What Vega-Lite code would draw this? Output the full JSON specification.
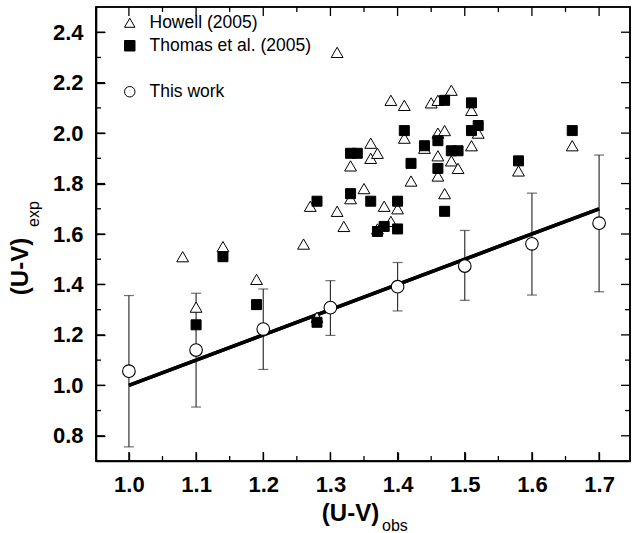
{
  "$schema": "https://vega.github.io/schema/vega-lite/v6.json",
  "width": 534,
  "height": 454,
  "autosize": "none",
  "padding": {"left": 96, "top": 7, "right": 2, "bottom": 72},
  "background": "white",
  "config": {
    "view": {"stroke": "black", "strokeWidth": 1.6},
    "axis": {
      "grid": false,
      "domainColor": "black",
      "domainWidth": 1.6,
      "tickColor": "black",
      "tickWidth": 1.3,
      "labelColor": "black",
      "labelFont": "Liberation Sans",
      "labelFontWeight": "bold",
      "labelFontSize": 22,
      "labelPadding": 22,
      "titleColor": "black",
      "titleFont": "Liberation Sans",
      "titleFontWeight": "bold",
      "titleFontSize": 24
    },
    "legend": {
      "labelFont": "Liberation Sans",
      "labelFontSize": 17.5,
      "labelColor": "black",
      "symbolSize": 110,
      "symbolStrokeWidth": 1,
      "rowPadding": 4,
      "labelOffset": 11,
      "padding": 0,
      "labelLimit": 400
    }
  },
  "datasets": {
    "howell": [
      {"x": 1.08, "y": 1.51, "series": "Howell (2005)"},
      {"x": 1.10, "y": 1.31, "series": "Howell (2005)"},
      {"x": 1.14, "y": 1.55, "series": "Howell (2005)"},
      {"x": 1.19, "y": 1.42, "series": "Howell (2005)"},
      {"x": 1.26, "y": 1.56, "series": "Howell (2005)"},
      {"x": 1.27, "y": 1.71, "series": "Howell (2005)"},
      {"x": 1.28, "y": 1.27, "series": "Howell (2005)"},
      {"x": 1.31, "y": 1.69, "series": "Howell (2005)"},
      {"x": 1.31, "y": 2.32, "series": "Howell (2005)"},
      {"x": 1.32, "y": 1.63, "series": "Howell (2005)"},
      {"x": 1.33, "y": 1.74, "series": "Howell (2005)"},
      {"x": 1.33, "y": 1.87, "series": "Howell (2005)"},
      {"x": 1.35, "y": 1.78, "series": "Howell (2005)"},
      {"x": 1.36, "y": 1.96, "series": "Howell (2005)"},
      {"x": 1.36, "y": 1.90, "series": "Howell (2005)"},
      {"x": 1.37, "y": 1.92, "series": "Howell (2005)"},
      {"x": 1.37, "y": 1.62, "series": "Howell (2005)"},
      {"x": 1.38, "y": 1.71, "series": "Howell (2005)"},
      {"x": 1.39, "y": 1.65, "series": "Howell (2005)"},
      {"x": 1.39, "y": 2.13, "series": "Howell (2005)"},
      {"x": 1.40, "y": 1.70, "series": "Howell (2005)"},
      {"x": 1.41, "y": 2.11, "series": "Howell (2005)"},
      {"x": 1.41, "y": 1.98, "series": "Howell (2005)"},
      {"x": 1.42, "y": 1.81, "series": "Howell (2005)"},
      {"x": 1.44, "y": 1.94, "series": "Howell (2005)"},
      {"x": 1.45, "y": 2.12, "series": "Howell (2005)"},
      {"x": 1.46, "y": 2.13, "series": "Howell (2005)"},
      {"x": 1.46, "y": 2.00, "series": "Howell (2005)"},
      {"x": 1.47, "y": 2.01, "series": "Howell (2005)"},
      {"x": 1.46, "y": 1.91, "series": "Howell (2005)"},
      {"x": 1.46, "y": 1.83, "series": "Howell (2005)"},
      {"x": 1.47, "y": 1.76, "series": "Howell (2005)"},
      {"x": 1.48, "y": 2.17, "series": "Howell (2005)"},
      {"x": 1.48, "y": 1.89, "series": "Howell (2005)"},
      {"x": 1.49, "y": 1.86, "series": "Howell (2005)"},
      {"x": 1.51, "y": 2.09, "series": "Howell (2005)"},
      {"x": 1.51, "y": 1.95, "series": "Howell (2005)"},
      {"x": 1.52, "y": 2.00, "series": "Howell (2005)"},
      {"x": 1.58, "y": 1.85, "series": "Howell (2005)"},
      {"x": 1.66, "y": 1.95, "series": "Howell (2005)"}
    ],
    "thomas": [
      {"x": 1.10, "y": 1.24, "series": "Thomas et al. (2005)"},
      {"x": 1.14, "y": 1.51, "series": "Thomas et al. (2005)"},
      {"x": 1.19, "y": 1.32, "series": "Thomas et al. (2005)"},
      {"x": 1.28, "y": 1.25, "series": "Thomas et al. (2005)"},
      {"x": 1.28, "y": 1.73, "series": "Thomas et al. (2005)"},
      {"x": 1.33, "y": 1.76, "series": "Thomas et al. (2005)"},
      {"x": 1.33, "y": 1.92, "series": "Thomas et al. (2005)"},
      {"x": 1.34, "y": 1.92, "series": "Thomas et al. (2005)"},
      {"x": 1.36, "y": 1.73, "series": "Thomas et al. (2005)"},
      {"x": 1.37, "y": 1.61, "series": "Thomas et al. (2005)"},
      {"x": 1.38, "y": 1.63, "series": "Thomas et al. (2005)"},
      {"x": 1.40, "y": 1.73, "series": "Thomas et al. (2005)"},
      {"x": 1.40, "y": 1.62, "series": "Thomas et al. (2005)"},
      {"x": 1.41, "y": 2.01, "series": "Thomas et al. (2005)"},
      {"x": 1.42, "y": 1.88, "series": "Thomas et al. (2005)"},
      {"x": 1.44, "y": 1.95, "series": "Thomas et al. (2005)"},
      {"x": 1.46, "y": 1.97, "series": "Thomas et al. (2005)"},
      {"x": 1.46, "y": 1.86, "series": "Thomas et al. (2005)"},
      {"x": 1.47, "y": 2.13, "series": "Thomas et al. (2005)"},
      {"x": 1.47, "y": 1.69, "series": "Thomas et al. (2005)"},
      {"x": 1.48, "y": 1.93, "series": "Thomas et al. (2005)"},
      {"x": 1.49, "y": 1.93, "series": "Thomas et al. (2005)"},
      {"x": 1.51, "y": 2.12, "series": "Thomas et al. (2005)"},
      {"x": 1.51, "y": 2.01, "series": "Thomas et al. (2005)"},
      {"x": 1.52, "y": 2.03, "series": "Thomas et al. (2005)"},
      {"x": 1.58, "y": 1.89, "series": "Thomas et al. (2005)"},
      {"x": 1.66, "y": 2.01, "series": "Thomas et al. (2005)"}
    ],
    "thiswork": [
      {"x": 1.0, "y": 1.056, "lo": 0.756, "hi": 1.356, "series": "This work"},
      {"x": 1.1, "y": 1.140, "lo": 0.914, "hi": 1.365, "series": "This work"},
      {"x": 1.2, "y": 1.223, "lo": 1.063, "hi": 1.382, "series": "This work"},
      {"x": 1.3, "y": 1.308, "lo": 1.198, "hi": 1.415, "series": "This work"},
      {"x": 1.4, "y": 1.391, "lo": 1.295, "hi": 1.487, "series": "This work"},
      {"x": 1.5, "y": 1.473, "lo": 1.337, "hi": 1.614, "series": "This work"},
      {"x": 1.6, "y": 1.561, "lo": 1.358, "hi": 1.762, "series": "This work"},
      {"x": 1.7, "y": 1.643, "lo": 1.371, "hi": 1.913, "series": "This work"}
    ],
    "fit": [
      {"x": 1.0, "y": 1.0},
      {"x": 1.7, "y": 1.7}
    ],
    "xmajor": [{"v": 1.0}, {"v": 1.1}, {"v": 1.2}, {"v": 1.3}, {"v": 1.4}, {"v": 1.5}, {"v": 1.6}, {"v": 1.7}],
    "xminor": [{"v": 1.05}, {"v": 1.15}, {"v": 1.25}, {"v": 1.35}, {"v": 1.45}, {"v": 1.55}, {"v": 1.65}],
    "ymajor": [{"v": 0.8}, {"v": 1.0}, {"v": 1.2}, {"v": 1.4}, {"v": 1.6}, {"v": 1.8}, {"v": 2.0}, {"v": 2.2}, {"v": 2.4}],
    "yminor": [{"v": 0.9}, {"v": 1.1}, {"v": 1.3}, {"v": 1.5}, {"v": 1.7}, {"v": 1.9}, {"v": 2.1}, {"v": 2.3}],
    "single": [{"note": "frame"}]
  },
  "resolve": {"axis": {"x": "independent", "y": "independent"}},
  "layer": [
    {
      "data": {"name": "fit"},
      "mark": {"type": "line", "color": "black", "strokeWidth": 3.5},
      "encoding": {
        "x": {
          "field": "x", "type": "quantitative",
          "scale": {"domain": [0.951, 1.746], "nice": false, "zero": false},
          "axis": {
            "orient": "bottom",
            "values": [1.0, 1.1, 1.2, 1.3, 1.4, 1.5, 1.6, 1.7],
            "format": ".1f",
            "tickSize": -9,
            "title": "(U-V)",
            "titleX": 254,
            "titleY": 59,
            "titleBaseline": "alphabetic",
            "titleAlign": "center",
            "titleAngle": 0
          }
        },
        "y": {
          "field": "y", "type": "quantitative",
          "scale": {"domain": [0.7, 2.5], "nice": false, "zero": false},
          "axis": {
            "orient": "left",
            "values": [0.8, 1.0, 1.2, 1.4, 1.6, 1.8, 2.0, 2.2, 2.4],
            "format": ".1f",
            "tickSize": -9,
            "title": "(U-V)",
            "titleX": -69,
            "titleY": 259,
            "titleBaseline": "alphabetic",
            "titleAlign": "center",
            "titleAngle": 270
          }
        }
      }
    },
    {
      "data": {"name": "single"},
      "mark": {"type": "rect", "fill": null, "fillOpacity": 0, "stroke": "black", "strokeWidth": 1.6},
      "encoding": {
        "x": {"datum": 0.951, "type": "quantitative", "scale": {"domain": [0.951, 1.746], "nice": false, "zero": false}, "axis": null},
        "x2": {"datum": 1.746},
        "y": {"datum": 0.7, "type": "quantitative", "scale": {"domain": [0.7, 2.5], "nice": false, "zero": false}, "axis": null},
        "y2": {"datum": 2.5}
      }
    },
    {
      "data": {"name": "xmajor"},
      "mark": {"type": "rule", "color": "black", "strokeWidth": 1.3},
      "encoding": {
        "x": {"field": "v", "type": "quantitative", "scale": {"domain": [0.951, 1.746], "nice": false, "zero": false}, "axis": null},
        "y": {"datum": 0.7, "type": "quantitative", "scale": {"domain": [0.7, 2.5], "nice": false, "zero": false}, "axis": null},
        "y2": {"datum": 0.7357}
      }
    },
    {
      "data": {"name": "xmajor"},
      "mark": {"type": "rule", "color": "black", "strokeWidth": 1.3},
      "encoding": {
        "x": {"field": "v", "type": "quantitative", "scale": {"domain": [0.951, 1.746], "nice": false, "zero": false}, "axis": null},
        "y": {"datum": 2.5, "type": "quantitative", "scale": {"domain": [0.7, 2.5], "nice": false, "zero": false}, "axis": null},
        "y2": {"datum": 2.4643}
      }
    },
    {
      "data": {"name": "xminor"},
      "mark": {"type": "rule", "color": "black", "strokeWidth": 1.3},
      "encoding": {
        "x": {"field": "v", "type": "quantitative", "scale": {"domain": [0.951, 1.746], "nice": false, "zero": false}, "axis": null},
        "y": {"datum": 0.7, "type": "quantitative", "scale": {"domain": [0.7, 2.5], "nice": false, "zero": false}, "axis": null},
        "y2": {"datum": 0.7198}
      }
    },
    {
      "data": {"name": "xminor"},
      "mark": {"type": "rule", "color": "black", "strokeWidth": 1.3},
      "encoding": {
        "x": {"field": "v", "type": "quantitative", "scale": {"domain": [0.951, 1.746], "nice": false, "zero": false}, "axis": null},
        "y": {"datum": 2.5, "type": "quantitative", "scale": {"domain": [0.7, 2.5], "nice": false, "zero": false}, "axis": null},
        "y2": {"datum": 2.4802}
      }
    },
    {
      "data": {"name": "ymajor"},
      "mark": {"type": "rule", "color": "black", "strokeWidth": 1.3},
      "encoding": {
        "y": {"field": "v", "type": "quantitative", "scale": {"domain": [0.7, 2.5], "nice": false, "zero": false}, "axis": null},
        "x": {"datum": 0.951, "type": "quantitative", "scale": {"domain": [0.951, 1.746], "nice": false, "zero": false}, "axis": null},
        "x2": {"datum": 0.9644}
      }
    },
    {
      "data": {"name": "ymajor"},
      "mark": {"type": "rule", "color": "black", "strokeWidth": 1.3},
      "encoding": {
        "y": {"field": "v", "type": "quantitative", "scale": {"domain": [0.7, 2.5], "nice": false, "zero": false}, "axis": null},
        "x": {"datum": 1.746, "type": "quantitative", "scale": {"domain": [0.951, 1.746], "nice": false, "zero": false}, "axis": null},
        "x2": {"datum": 1.7326}
      }
    },
    {
      "data": {"name": "yminor"},
      "mark": {"type": "rule", "color": "black", "strokeWidth": 1.3},
      "encoding": {
        "y": {"field": "v", "type": "quantitative", "scale": {"domain": [0.7, 2.5], "nice": false, "zero": false}, "axis": null},
        "x": {"datum": 0.951, "type": "quantitative", "scale": {"domain": [0.951, 1.746], "nice": false, "zero": false}, "axis": null},
        "x2": {"datum": 0.9584}
      }
    },
    {
      "data": {"name": "yminor"},
      "mark": {"type": "rule", "color": "black", "strokeWidth": 1.3},
      "encoding": {
        "y": {"field": "v", "type": "quantitative", "scale": {"domain": [0.7, 2.5], "nice": false, "zero": false}, "axis": null},
        "x": {"datum": 1.746, "type": "quantitative", "scale": {"domain": [0.951, 1.746], "nice": false, "zero": false}, "axis": null},
        "x2": {"datum": 1.7386}
      }
    },
    {
      "data": {"name": "thiswork"},
      "mark": {"type": "rule", "color": "#333333", "strokeWidth": 1.2},
      "encoding": {
        "x": {"field": "x", "type": "quantitative", "scale": {"domain": [0.951, 1.746], "nice": false, "zero": false}, "axis": null},
        "y": {"field": "lo", "type": "quantitative", "scale": {"domain": [0.7, 2.5], "nice": false, "zero": false}, "axis": null},
        "y2": {"field": "hi"}
      }
    },
    {
      "data": {"name": "thiswork"},
      "mark": {"type": "tick", "orient": "horizontal", "size": 10, "thickness": 1.2, "color": "#333333"},
      "encoding": {
        "x": {"field": "x", "type": "quantitative", "scale": {"domain": [0.951, 1.746], "nice": false, "zero": false}, "axis": null},
        "y": {"field": "lo", "type": "quantitative", "scale": {"domain": [0.7, 2.5], "nice": false, "zero": false}, "axis": null}
      }
    },
    {
      "data": {"name": "thiswork"},
      "mark": {"type": "tick", "orient": "horizontal", "size": 10, "thickness": 1.2, "color": "#333333"},
      "encoding": {
        "x": {"field": "x", "type": "quantitative", "scale": {"domain": [0.951, 1.746], "nice": false, "zero": false}, "axis": null},
        "y": {"field": "hi", "type": "quantitative", "scale": {"domain": [0.7, 2.5], "nice": false, "zero": false}, "axis": null}
      }
    },
    {
      "data": {"name": "fit"},
      "mark": {"type": "line", "color": "black", "strokeWidth": 3.5},
      "encoding": {
        "x": {"field": "x", "type": "quantitative", "scale": {"domain": [0.951, 1.746], "nice": false, "zero": false}, "axis": null},
        "y": {"field": "y", "type": "quantitative", "scale": {"domain": [0.7, 2.5], "nice": false, "zero": false}, "axis": null}
      }
    },
    {
      "data": {"name": "howell"},
      "mark": {"type": "point", "filled": true, "size": 140, "strokeWidth": 1, "opacity": 1},
      "encoding": {
        "x": {"field": "x", "type": "quantitative", "scale": {"domain": [0.951, 1.746], "nice": false, "zero": false}, "axis": null},
        "y": {"field": "y", "type": "quantitative", "scale": {"domain": [0.7, 2.5], "nice": false, "zero": false}, "axis": null},
        "shape": {"field": "series", "type": "nominal", "scale": {"domain": ["Howell (2005)", "Thomas et al. (2005)", " ", "This work"], "range": ["triangle-up", "square", "circle", "circle"]}, "legend": {"orient": "none", "legendX": 25, "legendY": 7, "title": null}},
        "fill": {"field": "series", "type": "nominal", "scale": {"domain": ["Howell (2005)", "Thomas et al. (2005)", " ", "This work"], "range": ["white", "black", "transparent", "white"]}, "legend": {"orient": "none", "legendX": 25, "legendY": 7, "title": null}},
        "stroke": {"field": "series", "type": "nominal", "scale": {"domain": ["Howell (2005)", "Thomas et al. (2005)", " ", "This work"], "range": ["black", "black", "transparent", "black"]}, "legend": {"orient": "none", "legendX": 25, "legendY": 7, "title": null}}
      }
    },
    {
      "data": {"name": "thomas"},
      "mark": {"type": "point", "filled": true, "size": 100, "strokeWidth": 1, "opacity": 1},
      "encoding": {
        "x": {"field": "x", "type": "quantitative", "scale": {"domain": [0.951, 1.746], "nice": false, "zero": false}, "axis": null},
        "y": {"field": "y", "type": "quantitative", "scale": {"domain": [0.7, 2.5], "nice": false, "zero": false}, "axis": null},
        "shape": {"field": "series", "type": "nominal", "scale": {"domain": ["Howell (2005)", "Thomas et al. (2005)", " ", "This work"], "range": ["triangle-up", "square", "circle", "circle"]}, "legend": {"orient": "none", "legendX": 25, "legendY": 7, "title": null}},
        "fill": {"field": "series", "type": "nominal", "scale": {"domain": ["Howell (2005)", "Thomas et al. (2005)", " ", "This work"], "range": ["white", "black", "transparent", "white"]}, "legend": {"orient": "none", "legendX": 25, "legendY": 7, "title": null}},
        "stroke": {"field": "series", "type": "nominal", "scale": {"domain": ["Howell (2005)", "Thomas et al. (2005)", " ", "This work"], "range": ["black", "black", "transparent", "black"]}, "legend": {"orient": "none", "legendX": 25, "legendY": 7, "title": null}}
      }
    },
    {
      "data": {"name": "thiswork"},
      "mark": {"type": "point", "filled": true, "size": 160, "strokeWidth": 1.1, "opacity": 1},
      "encoding": {
        "x": {"field": "x", "type": "quantitative", "scale": {"domain": [0.951, 1.746], "nice": false, "zero": false}, "axis": null},
        "y": {"field": "y", "type": "quantitative", "scale": {"domain": [0.7, 2.5], "nice": false, "zero": false}, "axis": null},
        "shape": {"field": "series", "type": "nominal", "scale": {"domain": ["Howell (2005)", "Thomas et al. (2005)", " ", "This work"], "range": ["triangle-up", "square", "circle", "circle"]}, "legend": {"orient": "none", "legendX": 25, "legendY": 7, "title": null}},
        "fill": {"field": "series", "type": "nominal", "scale": {"domain": ["Howell (2005)", "Thomas et al. (2005)", " ", "This work"], "range": ["white", "black", "transparent", "white"]}, "legend": {"orient": "none", "legendX": 25, "legendY": 7, "title": null}},
        "stroke": {"field": "series", "type": "nominal", "scale": {"domain": ["Howell (2005)", "Thomas et al. (2005)", " ", "This work"], "range": ["black", "black", "transparent", "black"]}, "legend": {"orient": "none", "legendX": 25, "legendY": 7, "title": null}}
      }
    },
    {
      "data": {"name": "single"},
      "mark": {"type": "text", "text": "exp", "angle": 270, "align": "left", "baseline": "alphabetic", "font": "Liberation Sans", "fontSize": 16, "color": "black"},
      "encoding": {
        "x": {"datum": 0.8661, "type": "quantitative", "scale": {"domain": [0.951, 1.746], "nice": false, "zero": false}, "axis": null},
        "y": {"datum": 1.6277, "type": "quantitative", "scale": {"domain": [0.7, 2.5], "nice": false, "zero": false}, "axis": null}
      }
    },
    {
      "data": {"name": "single"},
      "mark": {"type": "text", "text": "obs", "align": "left", "baseline": "alphabetic", "font": "Liberation Sans", "fontSize": 16, "color": "black"},
      "encoding": {
        "x": {"datum": 1.3768, "type": "quantitative", "scale": {"domain": [0.951, 1.746], "nice": false, "zero": false}, "axis": null},
        "y": {"datum": 0.4223, "type": "quantitative", "scale": {"domain": [0.7, 2.5], "nice": false, "zero": false}, "axis": null}
      }
    }
  ]
}
